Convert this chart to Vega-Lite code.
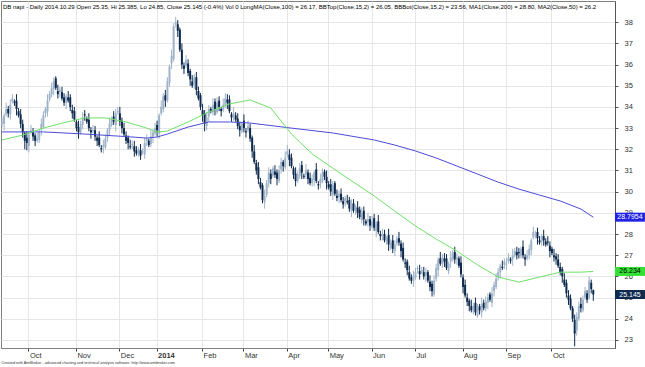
{
"$schema":"https://vega.github.io/schema/vega-lite/v6.json",
"width":614,"height":347,
"autosize":{"type":"none"},
"padding":{"left":1,"top":1,"right":30,"bottom":19},
"background":"white",
"config":{"view":{"stroke":"#808080"},"font":"Liberation Sans","axis":{"labelOverlap":false},"axisY":{"labelOverlap":false}},
"title":{"text":"DB napi - Daily 2014.10.29  Open 25.35, Hi 25.385, Lo 24.85, Close 25.145 (-0.4%) Vol 0 LongMA(Close,100) = 26.17, BBTop(Close,15,2) = 26.05, BBBot(Close,15,2) = 23.56, MA1(Close,200) = 28.80, MA2(Close,50) = 26.2","anchor":"start","frame":"group","orient":"top","offset":-9,"fontSize":6,"fontWeight":"normal","color":"#000","font":"Liberation Sans","dx":2},
"datasets":{
"ohlc":[
{"d":"2013-09-12","o":33.2,"h":33.5,"l":33.05,"c":33.3},
{"d":"2013-09-13","o":33.2,"h":33.7,"l":32.9,"c":33.6},
{"d":"2013-09-16","o":33.65,"h":34.2,"l":33.55,"c":33.9},
{"d":"2013-09-17","o":33.9,"h":34.05,"l":33.5,"c":33.7},
{"d":"2013-09-18","o":33.65,"h":34.35,"l":33.4,"c":34.1},
{"d":"2013-09-19","o":34.25,"h":34.6,"l":34.15,"c":34.4},
{"d":"2013-09-20","o":34.25,"h":34.35,"l":34.05,"c":34.2},
{"d":"2013-09-23","o":34.3,"h":34.6,"l":33.6,"c":33.9},
{"d":"2013-09-24","o":33.8,"h":33.95,"l":33.5,"c":33.6},
{"d":"2013-09-25","o":33.65,"h":33.9,"l":33.0,"c":33.2},
{"d":"2013-09-26","o":33.2,"h":33.4,"l":32.55,"c":32.8},
{"d":"2013-09-27","o":32.75,"h":32.85,"l":32.0,"c":32.4},
{"d":"2013-09-30","o":32.55,"h":32.85,"l":31.95,"c":32.3},
{"d":"2013-10-01","o":32.15,"h":32.85,"l":31.85,"c":32.7},
{"d":"2013-10-02","o":32.8,"h":33.15,"l":32.7,"c":32.9},
{"d":"2013-10-03","o":32.8,"h":33.0,"l":32.4,"c":32.6},
{"d":"2013-10-04","o":32.65,"h":32.75,"l":32.15,"c":32.4},
{"d":"2013-10-07","o":32.4,"h":32.8,"l":32.3,"c":32.5},
{"d":"2013-10-08","o":32.45,"h":32.95,"l":32.3,"c":32.8},
{"d":"2013-10-09","o":32.95,"h":33.45,"l":32.65,"c":33.2},
{"d":"2013-10-10","o":33.05,"h":33.8,"l":32.95,"c":33.6},
{"d":"2013-10-11","o":33.7,"h":34.0,"l":33.5,"c":33.9},
{"d":"2013-10-14","o":33.8,"h":34.6,"l":33.55,"c":34.3},
{"d":"2013-10-15","o":34.35,"h":34.75,"l":34.25,"c":34.6},
{"d":"2013-10-16","o":34.6,"h":35.15,"l":34.45,"c":34.9},
{"d":"2013-10-17","o":34.85,"h":35.4,"l":34.55,"c":35.2},
{"d":"2013-10-18","o":35.35,"h":35.45,"l":34.8,"c":34.9},
{"d":"2013-10-21","o":34.75,"h":35.05,"l":34.4,"c":34.6},
{"d":"2013-10-22","o":34.7,"h":34.95,"l":34.45,"c":34.8},
{"d":"2013-10-23","o":34.7,"h":34.95,"l":34.3,"c":34.4},
{"d":"2013-10-24","o":34.45,"h":34.65,"l":34.05,"c":34.2},
{"d":"2013-10-25","o":34.2,"h":34.6,"l":33.9,"c":34.5},
{"d":"2013-10-28","o":34.45,"h":34.75,"l":34.2,"c":34.3},
{"d":"2013-10-29","o":34.45,"h":34.6,"l":33.8,"c":34.0},
{"d":"2013-10-30","o":33.85,"h":34.1,"l":33.45,"c":33.7},
{"d":"2013-10-31","o":33.8,"h":34.0,"l":33.3,"c":33.4},
{"d":"2013-11-01","o":33.3,"h":33.4,"l":32.85,"c":33.0},
{"d":"2013-11-04","o":33.05,"h":33.35,"l":32.5,"c":32.8},
{"d":"2013-11-05","o":32.8,"h":33.35,"l":32.7,"c":33.2},
{"d":"2013-11-06","o":33.15,"h":33.75,"l":32.95,"c":33.5},
{"d":"2013-11-07","o":33.65,"h":33.85,"l":33.35,"c":33.6},
{"d":"2013-11-08","o":33.45,"h":33.55,"l":33.2,"c":33.3},
{"d":"2013-11-11","o":33.4,"h":33.7,"l":32.85,"c":33.0},
{"d":"2013-11-12","o":32.9,"h":33.05,"l":32.5,"c":32.8},
{"d":"2013-11-13","o":32.85,"h":33.15,"l":32.75,"c":32.9},
{"d":"2013-11-14","o":32.9,"h":33.1,"l":32.4,"c":32.6},
{"d":"2013-11-15","o":32.55,"h":32.65,"l":32.15,"c":32.4},
{"d":"2013-11-18","o":32.55,"h":32.85,"l":32.1,"c":32.2},
{"d":"2013-11-19","o":32.05,"h":32.2,"l":31.85,"c":32.0},
{"d":"2013-11-20","o":32.1,"h":32.45,"l":31.8,"c":32.2},
{"d":"2013-11-21","o":32.1,"h":32.7,"l":32.0,"c":32.5},
{"d":"2013-11-22","o":32.55,"h":33.0,"l":32.35,"c":32.9},
{"d":"2013-11-25","o":32.9,"h":33.5,"l":32.65,"c":33.2},
{"d":"2013-11-26","o":33.15,"h":33.55,"l":33.05,"c":33.4},
{"d":"2013-11-27","o":33.55,"h":33.8,"l":33.15,"c":33.3},
{"d":"2013-11-28","o":33.15,"h":33.9,"l":32.85,"c":33.7},
{"d":"2013-11-29","o":33.75,"h":34.0,"l":33.65,"c":33.8},
{"d":"2013-12-02","o":33.7,"h":34.0,"l":33.1,"c":33.3},
{"d":"2013-12-03","o":33.35,"h":33.5,"l":32.75,"c":33.0},
{"d":"2013-12-04","o":33.0,"h":33.25,"l":32.6,"c":32.7},
{"d":"2013-12-05","o":32.65,"h":32.85,"l":32.25,"c":32.4},
{"d":"2013-12-06","o":32.55,"h":32.65,"l":32.0,"c":32.3},
{"d":"2013-12-09","o":32.15,"h":32.45,"l":32.0,"c":32.1},
{"d":"2013-12-10","o":32.2,"h":32.4,"l":32.0,"c":32.25},
{"d":"2013-12-11","o":32.15,"h":32.4,"l":31.65,"c":31.9},
{"d":"2013-12-12","o":31.95,"h":32.15,"l":31.7,"c":31.8},
{"d":"2013-12-13","o":31.8,"h":32.1,"l":31.65,"c":32.0},
{"d":"2013-12-16","o":31.95,"h":32.25,"l":31.5,"c":31.7},
{"d":"2013-12-17","o":31.85,"h":32.05,"l":31.75,"c":31.9},
{"d":"2013-12-18","o":31.75,"h":32.55,"l":31.55,"c":32.3},
{"d":"2013-12-19","o":32.4,"h":32.7,"l":32.15,"c":32.5},
{"d":"2013-12-20","o":32.4,"h":32.5,"l":32.1,"c":32.2},
{"d":"2013-12-23","o":32.25,"h":32.9,"l":32.1,"c":32.6},
{"d":"2013-12-27","o":32.6,"h":32.95,"l":32.3,"c":32.8},
{"d":"2013-12-30","o":32.75,"h":33.25,"l":32.65,"c":33.0},
{"d":"2014-01-02","o":33.15,"h":33.35,"l":32.6,"c":32.9},
{"d":"2014-01-03","o":32.75,"h":33.7,"l":32.5,"c":33.6},
{"d":"2014-01-06","o":33.7,"h":34.3,"l":33.6,"c":34.0},
{"d":"2014-01-07","o":33.9,"h":34.65,"l":33.75,"c":34.5},
{"d":"2014-01-08","o":34.55,"h":34.8,"l":34.0,"c":34.3},
{"d":"2014-01-09","o":34.3,"h":35.4,"l":34.2,"c":35.2},
{"d":"2014-01-10","o":35.15,"h":36.0,"l":34.95,"c":35.9},
{"d":"2014-01-13","o":36.05,"h":36.7,"l":35.8,"c":36.4},
{"d":"2014-01-14","o":36.25,"h":37.95,"l":36.15,"c":37.8},
{"d":"2014-01-15","o":37.9,"h":38.25,"l":37.75,"c":38.0},
{"d":"2014-01-16","o":37.9,"h":38.1,"l":37.3,"c":37.6},
{"d":"2014-01-17","o":37.65,"h":37.75,"l":36.6,"c":36.7},
{"d":"2014-01-20","o":36.7,"h":37.0,"l":35.8,"c":36.0},
{"d":"2014-01-21","o":35.95,"h":36.1,"l":35.55,"c":35.8},
{"d":"2014-01-22","o":35.95,"h":36.45,"l":35.85,"c":36.2},
{"d":"2014-01-23","o":36.05,"h":36.25,"l":35.45,"c":35.6},
{"d":"2014-01-24","o":35.7,"h":35.8,"l":35.0,"c":35.3},
{"d":"2014-01-27","o":35.2,"h":35.5,"l":34.9,"c":35.0},
{"d":"2014-01-28","o":35.05,"h":35.55,"l":34.85,"c":35.4},
{"d":"2014-01-29","o":35.4,"h":35.65,"l":34.55,"c":34.8},
{"d":"2014-01-30","o":34.75,"h":34.95,"l":34.3,"c":34.4},
{"d":"2014-01-31","o":34.55,"h":34.65,"l":33.85,"c":34.0},
{"d":"2014-02-03","o":33.85,"h":34.15,"l":33.3,"c":33.6},
{"d":"2014-02-04","o":33.7,"h":33.85,"l":32.85,"c":33.2},
{"d":"2014-02-05","o":33.1,"h":33.75,"l":32.9,"c":33.5},
{"d":"2014-02-06","o":33.55,"h":34.1,"l":33.3,"c":33.9},
{"d":"2014-02-07","o":33.9,"h":34.0,"l":33.7,"c":33.8},
{"d":"2014-02-10","o":33.75,"h":34.4,"l":33.6,"c":34.1},
{"d":"2014-02-11","o":34.25,"h":34.4,"l":33.6,"c":33.9},
{"d":"2014-02-12","o":33.75,"h":34.45,"l":33.65,"c":34.2},
{"d":"2014-02-13","o":34.3,"h":34.5,"l":33.8,"c":34.0},
{"d":"2014-02-14","o":33.9,"h":34.0,"l":33.55,"c":33.8},
{"d":"2014-02-17","o":33.85,"h":34.4,"l":33.75,"c":34.1},
{"d":"2014-02-18","o":34.1,"h":34.65,"l":33.95,"c":34.4},
{"d":"2014-02-19","o":34.35,"h":34.6,"l":33.9,"c":34.2},
{"d":"2014-02-20","o":34.35,"h":34.55,"l":33.7,"c":33.8},
{"d":"2014-02-21","o":33.65,"h":33.75,"l":33.3,"c":33.5},
{"d":"2014-02-24","o":33.6,"h":34.0,"l":33.35,"c":33.7},
{"d":"2014-02-25","o":33.6,"h":33.75,"l":33.3,"c":33.4},
{"d":"2014-02-26","o":33.45,"h":33.7,"l":32.95,"c":33.1},
{"d":"2014-02-27","o":33.1,"h":33.3,"l":32.6,"c":32.9},
{"d":"2014-02-28","o":32.85,"h":33.3,"l":32.75,"c":33.2},
{"d":"2014-03-03","o":33.35,"h":33.65,"l":32.8,"c":33.0},
{"d":"2014-03-04","o":32.85,"h":33.0,"l":32.55,"c":32.8},
{"d":"2014-03-05","o":32.9,"h":33.35,"l":32.8,"c":33.1},
{"d":"2014-03-06","o":33.0,"h":33.2,"l":32.35,"c":32.5},
{"d":"2014-03-07","o":32.55,"h":32.65,"l":31.6,"c":31.9},
{"d":"2014-03-10","o":31.9,"h":32.2,"l":31.3,"c":31.4},
{"d":"2014-03-11","o":31.35,"h":31.5,"l":30.8,"c":31.0},
{"d":"2014-03-12","o":31.15,"h":31.4,"l":30.35,"c":30.6},
{"d":"2014-03-13","o":30.45,"h":30.65,"l":30.1,"c":30.2},
{"d":"2014-03-14","o":30.3,"h":30.4,"l":29.45,"c":29.6},
{"d":"2014-03-17","o":29.5,"h":30.1,"l":29.2,"c":29.8},
{"d":"2014-03-18","o":29.85,"h":30.55,"l":29.75,"c":30.4},
{"d":"2014-03-19","o":30.4,"h":31.15,"l":30.2,"c":30.9},
{"d":"2014-03-20","o":30.85,"h":31.05,"l":30.35,"c":30.6},
{"d":"2014-03-21","o":30.75,"h":31.2,"l":30.65,"c":31.1},
{"d":"2014-03-24","o":30.95,"h":31.25,"l":30.65,"c":30.8},
{"d":"2014-03-25","o":30.9,"h":31.05,"l":30.3,"c":30.6},
{"d":"2014-03-26","o":30.5,"h":31.25,"l":30.4,"c":31.0},
{"d":"2014-03-27","o":31.05,"h":31.6,"l":30.85,"c":31.4},
{"d":"2014-03-28","o":31.4,"h":31.5,"l":30.95,"c":31.2},
{"d":"2014-03-31","o":31.15,"h":31.9,"l":31.05,"c":31.6},
{"d":"2014-04-01","o":31.75,"h":32.2,"l":31.6,"c":31.9},
{"d":"2014-04-02","o":31.75,"h":32.0,"l":31.2,"c":31.5},
{"d":"2014-04-03","o":31.6,"h":31.8,"l":31.1,"c":31.2},
{"d":"2014-04-04","o":31.1,"h":31.2,"l":30.6,"c":30.8},
{"d":"2014-04-07","o":30.85,"h":31.15,"l":30.25,"c":30.5},
{"d":"2014-04-08","o":30.5,"h":30.95,"l":30.4,"c":30.8},
{"d":"2014-04-09","o":30.75,"h":31.35,"l":30.6,"c":31.1},
{"d":"2014-04-10","o":31.25,"h":31.45,"l":30.6,"c":30.9},
{"d":"2014-04-11","o":30.75,"h":30.85,"l":30.6,"c":30.7},
{"d":"2014-04-14","o":30.8,"h":31.3,"l":30.6,"c":31.0},
{"d":"2014-04-15","o":30.9,"h":31.05,"l":30.35,"c":30.6},
{"d":"2014-04-16","o":30.65,"h":30.9,"l":30.3,"c":30.4},
{"d":"2014-04-17","o":30.4,"h":30.8,"l":30.25,"c":30.6},
{"d":"2014-04-22","o":30.55,"h":31.0,"l":30.25,"c":30.9},
{"d":"2014-04-23","o":31.05,"h":31.35,"l":30.4,"c":30.5},
{"d":"2014-04-24","o":30.35,"h":30.5,"l":30.1,"c":30.3},
{"d":"2014-04-25","o":30.4,"h":30.85,"l":30.15,"c":30.6},
{"d":"2014-04-28","o":30.5,"h":31.1,"l":30.4,"c":30.9},
{"d":"2014-04-29","o":30.95,"h":31.05,"l":30.55,"c":30.7},
{"d":"2014-04-30","o":30.7,"h":31.0,"l":30.1,"c":30.4},
{"d":"2014-05-02","o":30.35,"h":30.5,"l":30.1,"c":30.2},
{"d":"2014-05-05","o":30.35,"h":30.6,"l":29.8,"c":30.0},
{"d":"2014-05-06","o":29.85,"h":30.5,"l":29.6,"c":30.3},
{"d":"2014-05-07","o":30.4,"h":30.5,"l":29.8,"c":29.9},
{"d":"2014-05-08","o":29.8,"h":30.1,"l":29.55,"c":29.7},
{"d":"2014-05-09","o":29.75,"h":30.05,"l":29.45,"c":29.9},
{"d":"2014-05-12","o":29.9,"h":30.15,"l":29.5,"c":29.6},
{"d":"2014-05-13","o":29.55,"h":29.75,"l":29.2,"c":29.4},
{"d":"2014-05-14","o":29.55,"h":29.8,"l":29.3,"c":29.7},
{"d":"2014-05-15","o":29.55,"h":29.85,"l":29.4,"c":29.5},
{"d":"2014-05-16","o":29.6,"h":29.75,"l":29.05,"c":29.2},
{"d":"2014-05-19","o":29.1,"h":29.65,"l":28.8,"c":29.4},
{"d":"2014-05-20","o":29.45,"h":29.65,"l":29.0,"c":29.1},
{"d":"2014-05-21","o":29.1,"h":29.4,"l":28.9,"c":29.3},
{"d":"2014-05-22","o":29.25,"h":29.55,"l":28.75,"c":29.0},
{"d":"2014-05-23","o":29.15,"h":29.3,"l":28.7,"c":28.8},
{"d":"2014-05-26","o":28.65,"h":29.25,"l":28.5,"c":29.0},
{"d":"2014-05-27","o":29.1,"h":29.3,"l":28.4,"c":28.7},
{"d":"2014-05-28","o":28.6,"h":28.7,"l":28.4,"c":28.5},
{"d":"2014-05-29","o":28.55,"h":29.0,"l":28.35,"c":28.7},
{"d":"2014-05-30","o":28.7,"h":28.85,"l":28.15,"c":28.4},
{"d":"2014-06-02","o":28.35,"h":28.85,"l":28.25,"c":28.6},
{"d":"2014-06-03","o":28.75,"h":28.95,"l":28.15,"c":28.3},
{"d":"2014-06-04","o":28.15,"h":28.6,"l":27.85,"c":28.5},
{"d":"2014-06-05","o":28.6,"h":28.9,"l":28.0,"c":28.1},
{"d":"2014-06-06","o":28.0,"h":28.15,"l":27.7,"c":27.9},
{"d":"2014-06-09","o":27.95,"h":28.25,"l":27.7,"c":28.0},
{"d":"2014-06-10","o":28.0,"h":28.2,"l":27.6,"c":27.7},
{"d":"2014-06-11","o":27.65,"h":27.9,"l":27.5,"c":27.8},
{"d":"2014-06-12","o":27.95,"h":28.25,"l":27.2,"c":27.5},
{"d":"2014-06-13","o":27.35,"h":27.75,"l":27.25,"c":27.6},
{"d":"2014-06-16","o":27.7,"h":27.95,"l":27.1,"c":27.3},
{"d":"2014-06-17","o":27.2,"h":27.7,"l":26.95,"c":27.5},
{"d":"2014-06-18","o":27.55,"h":27.9,"l":27.45,"c":27.8},
{"d":"2014-06-19","o":27.8,"h":28.1,"l":27.45,"c":27.6},
{"d":"2014-06-20","o":27.55,"h":27.7,"l":26.9,"c":27.2},
{"d":"2014-06-23","o":27.35,"h":27.6,"l":26.7,"c":26.8},
{"d":"2014-06-24","o":26.65,"h":26.85,"l":26.4,"c":26.6},
{"d":"2014-06-25","o":26.7,"h":26.8,"l":26.05,"c":26.3},
{"d":"2014-06-26","o":26.2,"h":26.5,"l":25.8,"c":25.9},
{"d":"2014-06-27","o":25.95,"h":26.1,"l":25.65,"c":25.8},
{"d":"2014-06-30","o":25.8,"h":26.25,"l":25.5,"c":26.0},
{"d":"2014-07-01","o":25.95,"h":26.4,"l":25.85,"c":26.2},
{"d":"2014-07-02","o":26.35,"h":26.5,"l":26.15,"c":26.4},
{"d":"2014-07-03","o":26.25,"h":26.55,"l":25.85,"c":26.1},
{"d":"2014-07-04","o":26.2,"h":26.45,"l":26.1,"c":26.3},
{"d":"2014-07-07","o":26.2,"h":26.45,"l":25.85,"c":26.0},
{"d":"2014-07-08","o":26.05,"h":26.4,"l":25.75,"c":26.2},
{"d":"2014-07-09","o":26.2,"h":26.3,"l":25.7,"c":25.8},
{"d":"2014-07-10","o":25.75,"h":26.05,"l":25.3,"c":25.5},
{"d":"2014-07-11","o":25.65,"h":25.8,"l":25.05,"c":25.3},
{"d":"2014-07-14","o":25.15,"h":26.05,"l":25.05,"c":25.8},
{"d":"2014-07-15","o":25.9,"h":26.6,"l":25.75,"c":26.4},
{"d":"2014-07-16","o":26.3,"h":26.9,"l":26.0,"c":26.8},
{"d":"2014-07-17","o":26.85,"h":27.15,"l":26.5,"c":26.6},
{"d":"2014-07-18","o":26.6,"h":27.05,"l":26.4,"c":26.9},
{"d":"2014-07-21","o":26.85,"h":27.1,"l":26.45,"c":26.7},
{"d":"2014-07-22","o":26.85,"h":27.05,"l":26.3,"c":26.4},
{"d":"2014-07-23","o":26.25,"h":26.7,"l":26.1,"c":26.6},
{"d":"2014-07-24","o":26.7,"h":27.2,"l":26.4,"c":26.9},
{"d":"2014-07-25","o":26.8,"h":27.25,"l":26.7,"c":27.1},
{"d":"2014-07-28","o":27.15,"h":27.4,"l":26.6,"c":26.8},
{"d":"2014-07-29","o":26.8,"h":27.1,"l":26.55,"c":26.9},
{"d":"2014-07-30","o":26.85,"h":26.95,"l":26.4,"c":26.5},
{"d":"2014-07-31","o":26.65,"h":26.95,"l":25.95,"c":26.1},
{"d":"2014-08-01","o":25.95,"h":26.1,"l":25.2,"c":25.5},
{"d":"2014-08-04","o":25.6,"h":25.85,"l":25.0,"c":25.1},
{"d":"2014-08-05","o":25.0,"h":25.2,"l":24.6,"c":24.8},
{"d":"2014-08-06","o":24.85,"h":24.95,"l":24.35,"c":24.6},
{"d":"2014-08-07","o":24.6,"h":24.9,"l":24.3,"c":24.4},
{"d":"2014-08-08","o":24.35,"h":24.75,"l":24.2,"c":24.6},
{"d":"2014-08-11","o":24.75,"h":25.0,"l":24.15,"c":24.3},
{"d":"2014-08-12","o":24.15,"h":24.7,"l":24.05,"c":24.5},
{"d":"2014-08-13","o":24.6,"h":24.7,"l":24.2,"c":24.4},
{"d":"2014-08-14","o":24.3,"h":25.0,"l":24.05,"c":24.7},
{"d":"2014-08-15","o":24.75,"h":24.9,"l":24.4,"c":24.5},
{"d":"2014-08-18","o":24.5,"h":25.05,"l":24.35,"c":24.8},
{"d":"2014-08-19","o":24.75,"h":25.2,"l":24.45,"c":25.0},
{"d":"2014-08-20","o":25.15,"h":25.25,"l":24.8,"c":24.9},
{"d":"2014-08-21","o":24.75,"h":25.5,"l":24.55,"c":25.2},
{"d":"2014-08-22","o":25.3,"h":25.75,"l":25.05,"c":25.6},
{"d":"2014-08-25","o":25.5,"h":26.15,"l":25.4,"c":25.9},
{"d":"2014-08-26","o":25.95,"h":26.4,"l":25.8,"c":26.2},
{"d":"2014-08-27","o":26.2,"h":26.6,"l":25.9,"c":26.5},
{"d":"2014-08-28","o":26.45,"h":26.75,"l":26.3,"c":26.4},
{"d":"2014-08-29","o":26.55,"h":26.85,"l":26.35,"c":26.7},
{"d":"2014-09-01","o":26.55,"h":26.85,"l":26.3,"c":26.6},
{"d":"2014-09-02","o":26.7,"h":27.1,"l":26.6,"c":26.9},
{"d":"2014-09-03","o":26.8,"h":26.9,"l":26.6,"c":26.75},
{"d":"2014-09-04","o":26.8,"h":27.3,"l":26.5,"c":27.0},
{"d":"2014-09-05","o":27.0,"h":27.35,"l":26.9,"c":27.2},
{"d":"2014-09-08","o":27.15,"h":27.4,"l":26.8,"c":27.0},
{"d":"2014-09-09","o":27.15,"h":27.35,"l":26.85,"c":27.1},
{"d":"2014-09-10","o":26.95,"h":27.4,"l":26.85,"c":27.3},
{"d":"2014-09-11","o":27.4,"h":27.7,"l":26.85,"c":27.0},
{"d":"2014-09-12","o":26.9,"h":27.05,"l":26.5,"c":26.8},
{"d":"2014-09-15","o":26.85,"h":27.25,"l":26.75,"c":27.0},
{"d":"2014-09-16","o":27.0,"h":27.5,"l":26.8,"c":27.3},
{"d":"2014-09-17","o":27.25,"h":27.8,"l":27.0,"c":27.7},
{"d":"2014-09-18","o":27.85,"h":28.35,"l":27.75,"c":28.1},
{"d":"2014-09-19","o":27.95,"h":28.15,"l":27.8,"c":28.0},
{"d":"2014-09-22","o":28.1,"h":28.3,"l":27.5,"c":27.8},
{"d":"2014-09-23","o":27.7,"h":27.9,"l":27.5,"c":27.6},
{"d":"2014-09-24","o":27.65,"h":28.0,"l":27.45,"c":27.9},
{"d":"2014-09-25","o":27.9,"h":28.2,"l":27.45,"c":27.7},
{"d":"2014-09-26","o":27.65,"h":27.8,"l":27.4,"c":27.5},
{"d":"2014-09-29","o":27.65,"h":27.9,"l":27.45,"c":27.6},
{"d":"2014-09-30","o":27.45,"h":27.65,"l":26.9,"c":27.2},
{"d":"2014-10-01","o":27.3,"h":27.4,"l":27.0,"c":27.1},
{"d":"2014-10-02","o":27.0,"h":27.3,"l":26.7,"c":26.9},
{"d":"2014-10-03","o":26.95,"h":27.1,"l":26.55,"c":26.8},
{"d":"2014-10-06","o":26.8,"h":27.05,"l":26.4,"c":26.5},
{"d":"2014-10-07","o":26.45,"h":26.65,"l":26.05,"c":26.2},
{"d":"2014-10-08","o":26.35,"h":26.45,"l":25.7,"c":26.0},
{"d":"2014-10-09","o":25.85,"h":26.15,"l":25.5,"c":25.6},
{"d":"2014-10-10","o":25.7,"h":25.85,"l":25.0,"c":25.2},
{"d":"2014-10-13","o":25.1,"h":25.35,"l":24.65,"c":24.9},
{"d":"2014-10-14","o":24.95,"h":25.15,"l":24.4,"c":24.5},
{"d":"2014-10-15","o":24.5,"h":24.6,"l":23.85,"c":24.0},
{"d":"2014-10-16","o":23.95,"h":24.2,"l":22.7,"c":23.3},
{"d":"2014-10-17","o":23.45,"h":24.3,"l":23.2,"c":24.1},
{"d":"2014-10-20","o":24.0,"h":24.8,"l":23.9,"c":24.6},
{"d":"2014-10-21","o":24.7,"h":25.0,"l":24.3,"c":24.5},
{"d":"2014-10-22","o":24.4,"h":25.1,"l":24.3,"c":24.9},
{"d":"2014-10-23","o":25.0,"h":25.5,"l":24.9,"c":25.3},
{"d":"2014-10-24","o":25.2,"h":25.35,"l":24.75,"c":24.9},
{"d":"2014-10-27","o":25.0,"h":26.0,"l":24.9,"c":25.8},
{"d":"2014-10-28","o":25.7,"h":25.85,"l":25.2,"c":25.4},
{"d":"2014-10-29","o":25.35,"h":25.385,"l":24.85,"c":25.145}
],
"ma50":[
{"d":"2013-09-12","v":32.44},{"d":"2013-09-26","v":32.67},{"d":"2013-10-10","v":33.0},{"d":"2013-10-24","v":33.26},{"d":"2013-11-07","v":33.48},{"d":"2013-11-21","v":33.48},{"d":"2013-12-05","v":33.29},{"d":"2013-12-19","v":33.0},{"d":"2014-01-02","v":32.81},{"d":"2014-01-09","v":32.86},{"d":"2014-01-23","v":33.29},{"d":"2014-02-06","v":33.76},{"d":"2014-02-20","v":34.14},{"d":"2014-03-06","v":34.33},{"d":"2014-03-20","v":33.95},{"d":"2014-04-03","v":32.72},{"d":"2014-04-17","v":31.78},{"d":"2014-05-06","v":31.11},{"d":"2014-05-20","v":30.45},{"d":"2014-06-03","v":29.8},{"d":"2014-06-17","v":29.08},{"d":"2014-07-01","v":28.38},{"d":"2014-07-15","v":27.76},{"d":"2014-07-29","v":27.2},{"d":"2014-08-12","v":26.54},{"d":"2014-08-26","v":25.97},{"d":"2014-09-09","v":25.73},{"d":"2014-09-23","v":25.97},{"d":"2014-10-07","v":26.2},{"d":"2014-10-21","v":26.2},{"d":"2014-10-29","v":26.234}
],
"ma200":[
{"d":"2013-09-12","v":32.82},{"d":"2013-10-10","v":32.82},{"d":"2013-11-07","v":32.72},{"d":"2013-12-05","v":32.6},{"d":"2013-12-19","v":32.53},{"d":"2014-01-02","v":32.58},{"d":"2014-01-09","v":32.72},{"d":"2014-01-23","v":33.05},{"d":"2014-02-06","v":33.29},{"d":"2014-02-20","v":33.29},{"d":"2014-03-06","v":33.24},{"d":"2014-04-03","v":33.0},{"d":"2014-05-06","v":32.77},{"d":"2014-06-03","v":32.44},{"d":"2014-06-17","v":32.2},{"d":"2014-07-01","v":31.92},{"d":"2014-07-15","v":31.59},{"d":"2014-07-29","v":31.21},{"d":"2014-08-12","v":30.83},{"d":"2014-08-26","v":30.45},{"d":"2014-09-09","v":30.12},{"d":"2014-09-23","v":29.84},{"d":"2014-10-07","v":29.56},{"d":"2014-10-21","v":29.18},{"d":"2014-10-29","v":28.7954}
],
"labels":[
{"s":"MA200","v":28.7954,"t":"28.7954"},{"s":"MA50","v":26.234,"t":"26.234"},{"s":"Close","v":25.145,"t":"25.145"}
]
},
"layer":[
{"data":{"name":"ohlc"},
 "mark":{"type":"rule","strokeWidth":1},
 "encoding":{
  "x":{"field":"d","type":"ordinal","scale":{"paddingInner":0,"paddingOuter":0,"domain":[
"2013-09-12","2013-09-13","2013-09-16","2013-09-17","2013-09-18","2013-09-19","2013-09-20","2013-09-23","2013-09-24","2013-09-25","2013-09-26","2013-09-27","2013-09-30",
"2013-10-01","2013-10-02","2013-10-03","2013-10-04","2013-10-07","2013-10-08","2013-10-09","2013-10-10","2013-10-11","2013-10-14","2013-10-15","2013-10-16","2013-10-17","2013-10-18","2013-10-21","2013-10-22","2013-10-23","2013-10-24","2013-10-25","2013-10-28","2013-10-29","2013-10-30","2013-10-31",
"2013-11-01","2013-11-04","2013-11-05","2013-11-06","2013-11-07","2013-11-08","2013-11-11","2013-11-12","2013-11-13","2013-11-14","2013-11-15","2013-11-18","2013-11-19","2013-11-20","2013-11-21","2013-11-22","2013-11-25","2013-11-26","2013-11-27","2013-11-28","2013-11-29",
"2013-12-02","2013-12-03","2013-12-04","2013-12-05","2013-12-06","2013-12-09","2013-12-10","2013-12-11","2013-12-12","2013-12-13","2013-12-16","2013-12-17","2013-12-18","2013-12-19","2013-12-20","2013-12-23","2013-12-27","2013-12-30",
"2014-01-02","2014-01-03","2014-01-06","2014-01-07","2014-01-08","2014-01-09","2014-01-10","2014-01-13","2014-01-14","2014-01-15","2014-01-16","2014-01-17","2014-01-20","2014-01-21","2014-01-22","2014-01-23","2014-01-24","2014-01-27","2014-01-28","2014-01-29","2014-01-30","2014-01-31",
"2014-02-03","2014-02-04","2014-02-05","2014-02-06","2014-02-07","2014-02-10","2014-02-11","2014-02-12","2014-02-13","2014-02-14","2014-02-17","2014-02-18","2014-02-19","2014-02-20","2014-02-21","2014-02-24","2014-02-25","2014-02-26","2014-02-27","2014-02-28",
"2014-03-03","2014-03-04","2014-03-05","2014-03-06","2014-03-07","2014-03-10","2014-03-11","2014-03-12","2014-03-13","2014-03-14","2014-03-17","2014-03-18","2014-03-19","2014-03-20","2014-03-21","2014-03-24","2014-03-25","2014-03-26","2014-03-27","2014-03-28","2014-03-31",
"2014-04-01","2014-04-02","2014-04-03","2014-04-04","2014-04-07","2014-04-08","2014-04-09","2014-04-10","2014-04-11","2014-04-14","2014-04-15","2014-04-16","2014-04-17","2014-04-22","2014-04-23","2014-04-24","2014-04-25","2014-04-28","2014-04-29","2014-04-30",
"2014-05-02","2014-05-05","2014-05-06","2014-05-07","2014-05-08","2014-05-09","2014-05-12","2014-05-13","2014-05-14","2014-05-15","2014-05-16","2014-05-19","2014-05-20","2014-05-21","2014-05-22","2014-05-23","2014-05-26","2014-05-27","2014-05-28","2014-05-29","2014-05-30",
"2014-06-02","2014-06-03","2014-06-04","2014-06-05","2014-06-06","2014-06-09","2014-06-10","2014-06-11","2014-06-12","2014-06-13","2014-06-16","2014-06-17","2014-06-18","2014-06-19","2014-06-20","2014-06-23","2014-06-24","2014-06-25","2014-06-26","2014-06-27","2014-06-30",
"2014-07-01","2014-07-02","2014-07-03","2014-07-04","2014-07-07","2014-07-08","2014-07-09","2014-07-10","2014-07-11","2014-07-14","2014-07-15","2014-07-16","2014-07-17","2014-07-18","2014-07-21","2014-07-22","2014-07-23","2014-07-24","2014-07-25","2014-07-28","2014-07-29","2014-07-30","2014-07-31",
"2014-08-01","2014-08-04","2014-08-05","2014-08-06","2014-08-07","2014-08-08","2014-08-11","2014-08-12","2014-08-13","2014-08-14","2014-08-15","2014-08-18","2014-08-19","2014-08-20","2014-08-21","2014-08-22","2014-08-25","2014-08-26","2014-08-27","2014-08-28","2014-08-29",
"2014-09-01","2014-09-02","2014-09-03","2014-09-04","2014-09-05","2014-09-08","2014-09-09","2014-09-10","2014-09-11","2014-09-12","2014-09-15","2014-09-16","2014-09-17","2014-09-18","2014-09-19","2014-09-22","2014-09-23","2014-09-24","2014-09-25","2014-09-26","2014-09-29","2014-09-30",
"2014-10-01","2014-10-02","2014-10-03","2014-10-06","2014-10-07","2014-10-08","2014-10-09","2014-10-10","2014-10-13","2014-10-14","2014-10-15","2014-10-16","2014-10-17","2014-10-20","2014-10-21","2014-10-22","2014-10-23","2014-10-24","2014-10-27","2014-10-28","2014-10-29",
"2014-10-30","2014-10-31","2014-11-03","2014-11-04","2014-11-05","2014-11-06","2014-11-07","2014-11-10","2014-11-11","2014-11-12"]},
   "axis":{"values":["2013-10-01","2013-11-01","2013-12-02","2014-01-02","2014-02-03","2014-03-03","2014-04-01","2014-05-02","2014-06-02","2014-07-01","2014-08-01","2014-09-01","2014-10-01"],
    "labelExpr":"datum.value == '2014-01-02' ? '2014' : utcFormat(toDate(datum.value), '%b')",
    "labelAngle":0,"labelAlign":"left","labelFontSize":7.5,"labelColor":"#333","labelPadding":0,"labelOffset":1,"labelOverlap":false,
    "labelFontWeight":{"condition":{"test":"datum.value == '2014-01-02'","value":"bold"},"value":"normal"},
    "tickSize":3,"tickColor":"#444","domainColor":"#808080","grid":true,"gridColor":"#e6e6e6",
    "title":"Created with AmiBroker - advanced charting and technical analysis software. http://www.amibroker.com",
    "titleFontSize":3.8,"titleFontWeight":"normal","titleColor":"#333","titleAnchor":"start","titleAlign":"left","titlePadding":2}},
  "y":{"field":"l","type":"quantitative","scale":{"domain":[22.62,39.0],"nice":false,"zero":false},
   "axis":{"orient":"right","values":[23,24,25,26,27,28,29,30,31,32,33,34,35,36,37,38],"labelOverlap":false,"labelFontSize":7.5,"labelColor":"#333","labelPadding":6,"tickSize":3,"tickColor":"#555","domainColor":"#555","grid":true,"gridColor":"#e6e6e6","title":null}},
  "y2":{"field":"h"},
  "color":{"condition":{"test":"datum.c >= datum.o","value":"#9fb3c9"},"value":"#0e2b4f"}
 }},
{"data":{"name":"ohlc"},
 "mark":{"type":"bar","width":2},
 "encoding":{
  "x":{"field":"d","type":"ordinal"},
  "y":{"field":"o","type":"quantitative","axis":{"orient":"right","values":[23,24,25,26,27,28,29,30,31,32,33,34,35,36,37,38],"labelOverlap":false,"labelFontSize":7.5,"labelColor":"#333","labelPadding":6,"tickSize":3,"tickColor":"#555","domainColor":"#555","grid":true,"gridColor":"#e6e6e6","title":null}},
  "y2":{"field":"c"},
  "color":{"condition":{"test":"datum.c >= datum.o","value":"#9fb3c9"},"value":"#0e2b4f"}
 }},
{"data":{"name":"ma200"},
 "mark":{"type":"line","strokeWidth":1,"color":"#4b4bd8"},
 "encoding":{"x":{"field":"d","type":"ordinal"},"y":{"field":"v","type":"quantitative","axis":{"orient":"right","values":[23,24,25,26,27,28,29,30,31,32,33,34,35,36,37,38],"labelOverlap":false,"labelFontSize":7.5,"labelColor":"#333","labelPadding":6,"tickSize":3,"tickColor":"#555","domainColor":"#555","grid":true,"gridColor":"#e6e6e6","title":null}}}},
{"data":{"name":"ma50"},
 "mark":{"type":"line","strokeWidth":1,"color":"#6fe06a"},
 "encoding":{"x":{"field":"d","type":"ordinal"},"y":{"field":"v","type":"quantitative","axis":{"orient":"right","values":[23,24,25,26,27,28,29,30,31,32,33,34,35,36,37,38],"labelOverlap":false,"labelFontSize":7.5,"labelColor":"#333","labelPadding":6,"tickSize":3,"tickColor":"#555","domainColor":"#555","grid":true,"gridColor":"#e6e6e6","title":null}}}},
{"data":{"name":"labels"},
 "mark":{"type":"tick","size":30,"thickness":9,"xOffset":16,"opacity":1},
 "encoding":{"x":{"datum":"2014-11-12","type":"ordinal"},"y":{"field":"v","type":"quantitative","axis":{"orient":"right","values":[23,24,25,26,27,28,29,30,31,32,33,34,35,36,37,38],"labelOverlap":false,"labelFontSize":7.5,"labelColor":"#333","labelPadding":6,"tickSize":3,"tickColor":"#555","domainColor":"#555","grid":true,"gridColor":"#e6e6e6","title":null}},
  "color":{"field":"s","type":"nominal","scale":{"domain":["MA200","MA50","Close"],"range":["#2323e6","#33e033","#0e2b4f"]},"legend":null}}},
{"data":{"name":"labels"},
 "mark":{"type":"text","xOffset":16,"fontSize":7,"align":"center","baseline":"middle"},
 "encoding":{"x":{"datum":"2014-11-12","type":"ordinal"},"y":{"field":"v","type":"quantitative","axis":{"orient":"right","values":[23,24,25,26,27,28,29,30,31,32,33,34,35,36,37,38],"labelOverlap":false,"labelFontSize":7.5,"labelColor":"#333","labelPadding":6,"tickSize":3,"tickColor":"#555","domainColor":"#555","grid":true,"gridColor":"#e6e6e6","title":null}},
  "text":{"field":"t"},
  "color":{"condition":{"test":"datum.s == 'MA50'","value":"#000000"},"value":"#ffffff"}}}
]
}
